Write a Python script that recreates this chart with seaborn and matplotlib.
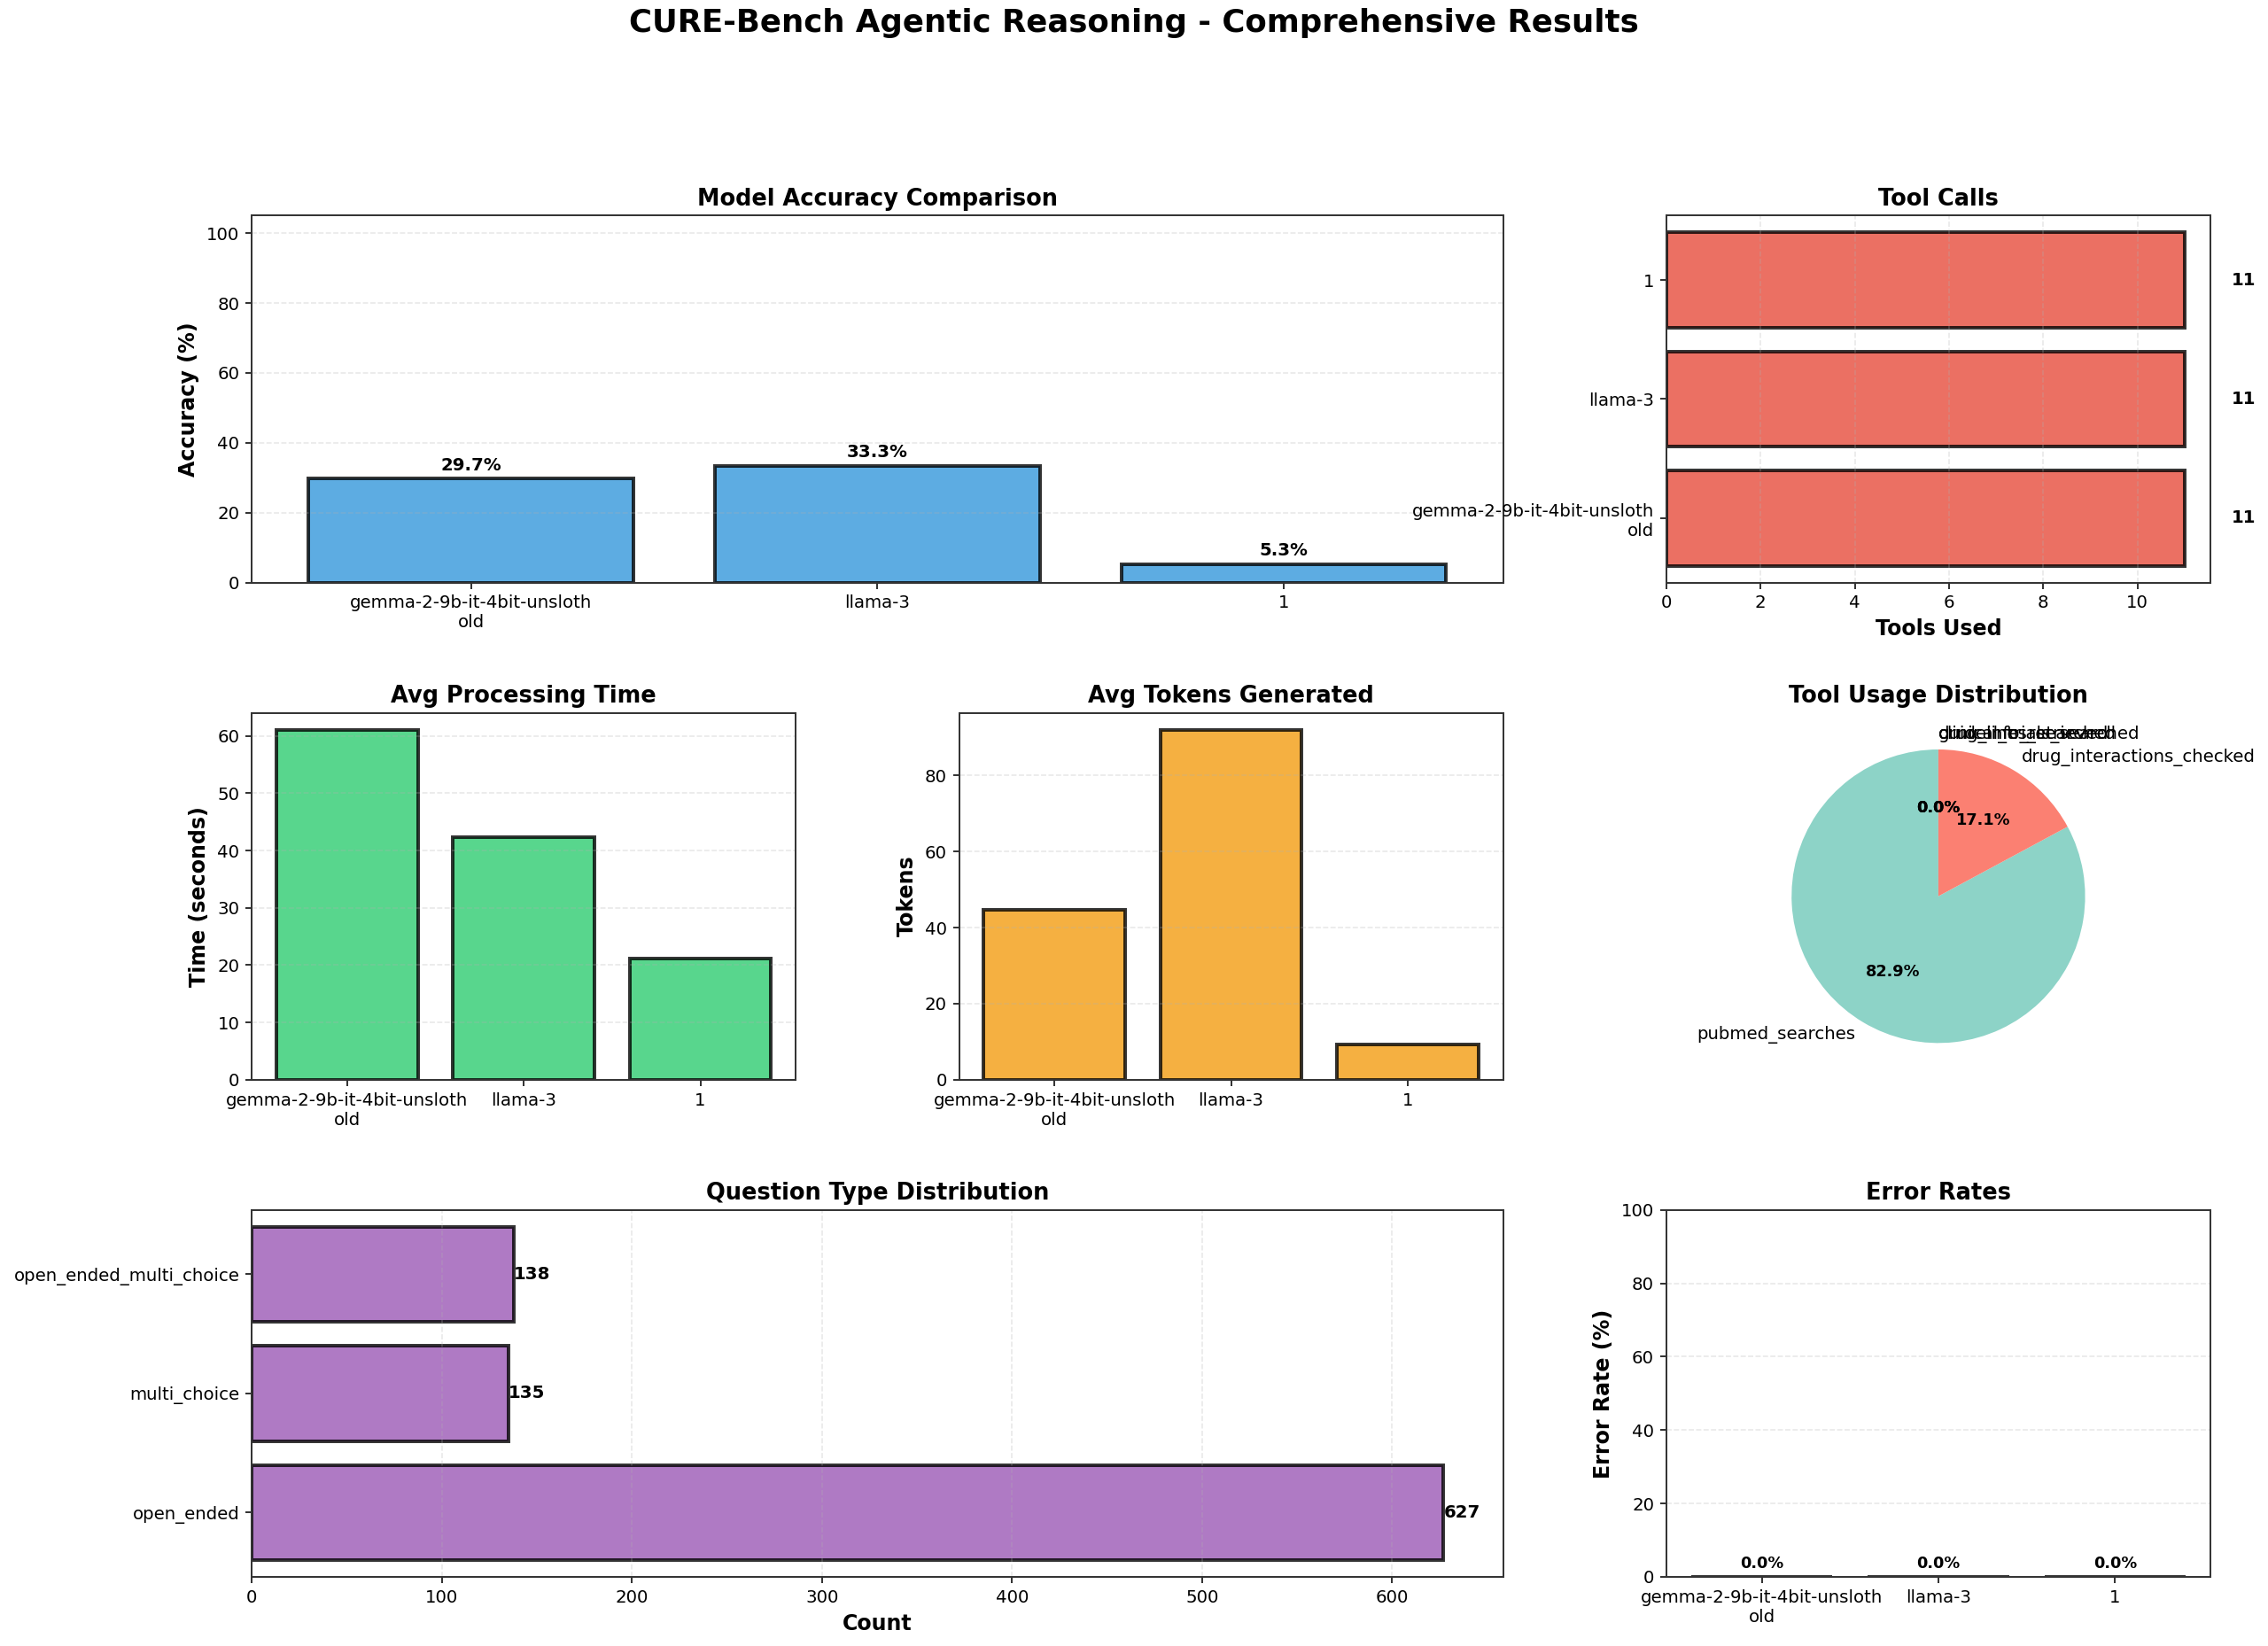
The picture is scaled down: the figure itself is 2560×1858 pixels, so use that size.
import matplotlib
matplotlib.use("Agg")
import matplotlib.pyplot as plt
import seaborn as sns

# model level results
models = ["gemma-2-9b-it-4bit-unsloth\nold", "llama-3", "1"]
accuracy = [29.7, 33.3, 5.3]
tool_calls = [11, 11, 11]
proc_time = [61.0, 42.4, 21.2]
avg_tokens = [44.7, 91.9, 9.3]
error_rate = [0.0, 0.0, 0.0]

# tool usage breakdown
tool_names = ["pubmed_searches", "drug_interactions_checked", "guidelines_searched",
              "clinical_trials_searched", "drug_info_retrieved"]
tool_counts = [29, 6, 0, 0, 0]
pie_colors = ["#8dd3c7", "#fb8072", "#bebada", "#ffffb3", "#80b1d3"]

# question types
question_types = ["open_ended", "multi_choice", "open_ended_multi_choice"]
question_counts = [627, 135, 138]

plt.rcParams["axes.edgecolor"] = "#333333"
plt.rcParams["axes.linewidth"] = 1.0
plt.rcParams["font.family"] = ["DejaVu Sans"]

fig = plt.figure(figsize=(18, 13.0641), dpi=2560 / 18)
gs = fig.add_gridspec(3, 3, left=0.111, right=0.9746, top=0.869, bottom=0.042,
                      hspace=0.355, wspace=0.30)
fig.suptitle("CURE-Bench Agentic Reasoning - Comprehensive Results",
             fontsize=18, fontweight="bold", y=0.995)

bar_kw = dict(edgecolor="black", linewidth=2, alpha=0.8, saturation=1, errorbar=None)


def vbar(ax, values, color, title, ylabel=None):
    sns.barplot(x=models, y=values, ax=ax, color=color, **bar_kw)
    ax.set_xlim(-0.54, 2.54)
    ax.set_title(title, fontsize=13, fontweight="bold")
    if ylabel:
        ax.set_ylabel(ylabel, fontsize=12, fontweight="bold")
    ax.set_xlabel("")
    ax.grid(axis="y", linestyle="--", alpha=0.3)


# accuracy
ax1 = fig.add_subplot(gs[0, :2])
vbar(ax1, accuracy, "#3498db", "Model Accuracy Comparison", "Accuracy (%)")
ax1.set_ylim(0, 105)
for p in ax1.patches:
    ax1.text(p.get_x() + p.get_width() / 2, p.get_height() + 1.5,
             f"{p.get_height():.1f}%", ha="center", va="bottom",
             fontsize=10, fontweight="bold")

# tool calls
ax2 = fig.add_subplot(gs[0, 2])
sns.barplot(x=tool_calls[::-1], y=models[::-1], order=models[::-1], orient="h",
            ax=ax2, color="#e74c3c", **bar_kw)
ax2.set_ylim(2.54, -0.54)
ax2.set_title("Tool Calls", fontsize=13, fontweight="bold")
ax2.set_xlabel("Tools Used", fontsize=12, fontweight="bold")
ax2.set_ylabel("")
ax2.grid(axis="x", linestyle="--", alpha=0.3)
for p in ax2.patches:
    ax2.text(p.get_width() + 1, p.get_y() + p.get_height() / 2,
             f"{int(p.get_width())}", va="center", fontsize=10, fontweight="bold")

# processing time
ax3 = fig.add_subplot(gs[1, 0])
vbar(ax3, proc_time, "#2ecc71", "Avg Processing Time", "Time (seconds)")

# tokens
ax4 = fig.add_subplot(gs[1, 1])
vbar(ax4, avg_tokens, "#f39c12", "Avg Tokens Generated", "Tokens")

# tool usage pie
ax5 = fig.add_subplot(gs[1, 2])
wedges, labels, pcts = ax5.pie(tool_counts, labels=tool_names, colors=pie_colors,
                               autopct="%1.1f%%", startangle=90,
                               textprops={"fontsize": 10})
# labels of the empty slices sit straight above the centre, start them there
for t in labels:
    if abs(t.get_position()[0]) < 1e-6:
        t.set_horizontalalignment("left")
for t in pcts:
    t.set_fontsize(9)
    t.set_fontweight("bold")
ax5.set_title("Tool Usage Distribution", fontsize=13, fontweight="bold")

# question types
ax6 = fig.add_subplot(gs[2, :2])
sns.barplot(x=question_counts[::-1], y=question_types[::-1],
            order=question_types[::-1], orient="h", ax=ax6, color="#9b59b6", **bar_kw)
ax6.set_ylim(2.54, -0.54)
ax6.set_title("Question Type Distribution", fontsize=13, fontweight="bold")
ax6.set_xlabel("Count", fontsize=12, fontweight="bold")
ax6.set_ylabel("")
ax6.grid(axis="x", linestyle="--", alpha=0.3)
for p in ax6.patches:
    ax6.text(p.get_width(), p.get_y() + p.get_height() / 2,
             f"{int(p.get_width())}", va="center", ha="left",
             fontsize=10, fontweight="bold")

# error rates
ax7 = fig.add_subplot(gs[2, 2])
vbar(ax7, error_rate, "#e74c3c", "Error Rates", "Error Rate (%)")
ax7.set_ylim(0, 100)
for p in ax7.patches:
    ax7.text(p.get_x() + p.get_width() / 2, p.get_height() + 1.5,
             f"{p.get_height():.1f}%", ha="center", va="bottom",
             fontsize=9, fontweight="bold")

fig.savefig("out.png", dpi=2560 / 18)
